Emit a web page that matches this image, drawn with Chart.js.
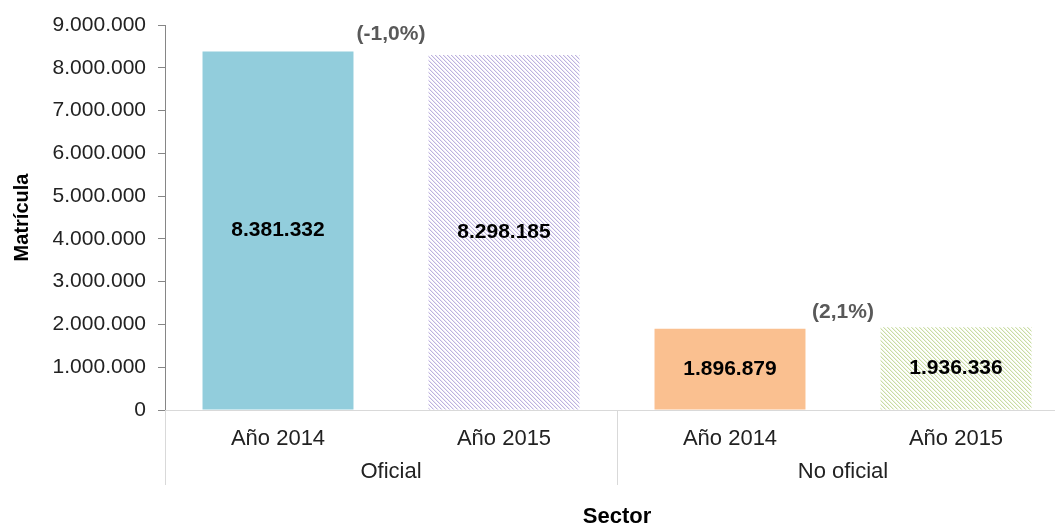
<!DOCTYPE html>
<html>
<head>
<meta charset="utf-8">
<script src="https://cdn.jsdelivr.net/npm/chart.js@4/dist/chart.umd.min.js"></script>
<style>
  html, body { margin: 0; padding: 0; background: #fff; overflow: hidden; }
  #wrap { position: relative; width: 1069px; height: 525px; }
</style>
</head>
<body>
<div id="wrap"><canvas id="chart"></canvas></div>
<script>
const years = ["Año 2014", "Año 2015", "Año 2014", "Año 2015"];
const sectors = ["Oficial", "No oficial"];
const matricula = [8381332, 8298185, 1896879, 1936336];
const changes = ["(-1,0%)", "(2,1%)"];
const yTicks = [0, 1000000, 2000000, 3000000, 4000000, 5000000, 6000000, 7000000, 8000000, 9000000];

const FONT = "'Liberation Sans', Arial, sans-serif";

function fmt(n) {
  return String(n).replace(/\B(?=(\d{3})+(?!\d))/g, ".");
}

// pixel diagonal stripes, top-left to bottom-right
function hatch(color, soft) {
  const c = document.createElement("canvas");
  c.width = 4; c.height = 4;
  const g = c.getContext("2d");
  g.fillStyle = "#fff";
  g.fillRect(0, 0, 4, 4);
  for (let i = 0; i < 4; i++) {
    g.fillStyle = color;
    g.fillRect(i, i, 1, 1);
    g.fillStyle = soft;
    g.fillRect((i + 1) % 4, i, 1, 1);
  }
  return g.createPattern(c, "repeat");
}

const ctx = document.getElementById("chart").getContext("2d");
const colors = ["#92cddc", hatch("#bdb2df", "#ece8f6"), "#fac090", hatch("#c9dca3", "#eef4e2")];

const labelPlugin = {
  id: "labels",
  afterDatasetsDraw(chart) {
    const c = chart.ctx;
    const bars = chart.getDatasetMeta(0).data;
    c.save();
    c.textAlign = "center";
    c.textBaseline = "middle";
    c.fillStyle = "#000";
    c.font = "bold 21px " + FONT;
    bars.forEach((b, i) => {
      c.fillText(fmt(matricula[i]), b.x, (b.y + b.base) / 2);
    });
    c.fillStyle = "#595959";
    changes.forEach((t, i) => {
      const a = bars[2 * i], b = bars[2 * i + 1];
      c.fillText(t, (a.x + b.x) / 2, a.y - 17);
    });
    // group dividers under the axis
    const s = chart.scales.x2;
    c.strokeStyle = "#d9d9d9";
    c.lineWidth = 1;
    [s.left, (s.left + s.right) / 2, s.right].forEach(x => {
      const px = Math.round(x) + 0.5;
      c.beginPath();
      c.moveTo(px, chart.chartArea.bottom);
      c.lineTo(px, s.top + 30);
      c.stroke();
    });
    c.restore();
  }
};

new Chart(ctx, {
  type: "bar",
  data: {
    labels: years,
    datasets: [{
      data: matricula,
      backgroundColor: colors,
      barPercentage: 0.668,
      categoryPercentage: 1
    }]
  },
  options: {
    responsive: true,
    maintainAspectRatio: false,
    animation: false,
    layout: { padding: { top: 25, right: 0, bottom: 0, left: 0 } },
    plugins: { legend: { display: false }, tooltip: { enabled: false } },
    scales: {
      y: {
        min: 0,
        max: 9000000,
        afterBuildTicks: s => { s.ticks = yTicks.map(v => ({ value: v })); },
        afterFit: s => { s.width = 165; },
        ticks: {
          padding: 12,
          color: "#222",
          font: { family: FONT, size: 21 },
          callback: v => fmt(v)
        },
        grid: { drawOnChartArea: false, drawTicks: true, tickLength: 7, color: "#868686" },
        border: { color: "#868686" },
        title: {
          display: true,
          text: "Matrícula",
          color: "#000",
          font: { family: FONT, size: 20, weight: "bold", lineHeight: 1 },
          padding: { top: 12, bottom: 0 }
        }
      },
      x: {
        weight: 0,
        afterFit: s => { s.height = 45; },
        grid: { display: false },
        border: { display: true, color: "#d9d9d9" },
        ticks: { padding: 8, color: "#222", font: { family: FONT, size: 22 }, maxRotation: 0 }
      },
      x2: {
        type: "category",
        position: "bottom",
        weight: 1,
        labels: sectors,
        offset: true,
        afterFit: s => { s.height = 70; },
        grid: { display: false },
        border: { display: false },
        ticks: { padding: -4, color: "#222", font: { family: FONT, size: 22 }, maxRotation: 0 },
        title: {
          display: true,
          text: "Sector",
          color: "#000",
          font: { family: FONT, size: 22, weight: "bold", lineHeight: 1 },
          padding: { top: 0, bottom: -3 }
        }
      }
    }
  },
  plugins: [labelPlugin]
});
</script>
</body>
</html>
